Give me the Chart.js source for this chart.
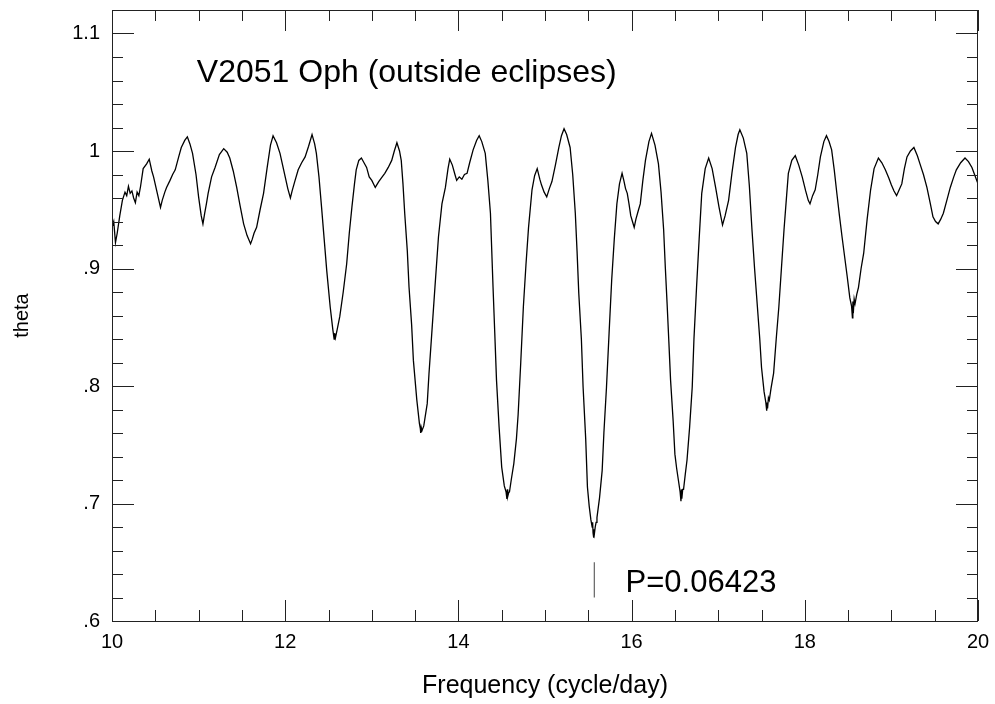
<!DOCTYPE html>
<html>
<head>
<title>V2051 Oph theta periodogram</title>
<script src="https://cdn.jsdelivr.net/npm/chart.js"></script>
<style>
  html, body { margin: 0; padding: 0; background: #fff; }
  canvas { display: block; }
</style>
</head>
<body>
<canvas id="theta" width="995" height="704"></canvas>

<script>
// frequency (cycle/day) and theta, one row per stretch of the curve
const freq = [
  10.00, 10.02, 10.04, 10.06, 10.09, 10.12, 10.15, 10.17, 10.19, 10.21, 10.23, 10.25, 10.27, 10.29, 10.31, 10.33,
  10.36, 10.40, 10.43, 10.46, 10.48, 10.52, 10.56, 10.58, 10.61, 10.63, 10.67, 10.70, 10.73, 10.77, 10.80, 10.84,
  10.87, 10.90, 10.93, 10.97, 11.00, 11.03, 11.05, 11.07, 11.09, 11.11, 11.15, 11.19, 11.24, 11.29, 11.33, 11.36,
  11.40, 11.44, 11.48, 11.52, 11.56, 11.60, 11.62, 11.64, 11.67, 11.71, 11.75, 11.79, 11.83, 11.86, 11.90, 11.94,
  11.97, 12.00, 12.03, 12.06, 12.08, 12.11, 12.15, 12.19, 12.23, 12.27, 12.31, 12.34, 12.36, 12.39, 12.42, 12.45,
  12.48, 12.52, 12.55, 12.565, 12.57, 12.58, 12.60, 12.63, 12.67, 12.71, 12.74, 12.77, 12.80, 12.82, 12.85, 12.88, 12.91, 12.94,
  12.97, 13.00, 13.04, 13.08, 13.12, 13.15, 13.19, 13.23, 13.26, 13.29, 13.32, 13.34, 13.36, 13.38, 13.41, 13.43,
  13.46, 13.48, 13.52, 13.55, 13.56, 13.565, 13.57, 13.58, 13.60, 13.64, 13.66, 13.69, 13.73, 13.77, 13.81, 13.85, 13.88, 13.90, 13.93,
  13.96, 13.98, 14.01, 14.04, 14.07, 14.10, 14.13, 14.17, 14.21, 14.24, 14.27, 14.31, 14.34, 14.37, 14.40, 14.42,
  14.44, 14.47, 14.50, 14.53, 14.55, 14.56, 14.565, 14.57, 14.58, 14.59, 14.61, 14.64, 14.67, 14.69, 14.72, 14.75, 14.78, 14.81, 14.85,
  14.88, 14.91, 14.94, 14.96, 14.99, 15.02, 15.05, 15.08, 15.12, 15.16, 15.19, 15.22, 15.25, 15.29, 15.32, 15.35,
  15.37, 15.39, 15.42, 15.44, 15.47, 15.49, 15.51, 15.53, 15.545, 15.55, 15.555, 15.56, 15.565, 15.57, 15.58, 15.59, 15.60, 15.63, 15.66, 15.68, 15.71,
  15.74, 15.77, 15.80, 15.83, 15.86, 15.89, 15.91, 15.93, 15.95, 15.97, 15.99, 16.01, 16.03, 16.05, 16.08, 16.10,
  16.13, 16.16, 16.20, 16.23, 16.27, 16.31, 16.34, 16.37, 16.39, 16.41, 16.43, 16.45, 16.48, 16.50, 16.52, 16.54,
  16.56, 16.57, 16.575, 16.58, 16.59, 16.60, 16.62, 16.64, 16.67, 16.70, 16.72, 16.75, 16.78, 16.81, 16.85, 16.89, 16.93, 16.97, 17.01,
  17.05, 17.08, 17.12, 17.16, 17.20, 17.23, 17.25, 17.29, 17.33, 17.36, 17.39, 17.42, 17.45, 17.48, 17.50, 17.53,
  17.55, 17.56, 17.565, 17.57, 17.58, 17.59, 17.61, 17.64, 17.67, 17.70, 17.73, 17.76, 17.79, 17.81, 17.85, 17.89, 17.93, 17.97, 18.01,
  18.04, 18.06, 18.09, 18.12, 18.15, 18.18, 18.22, 18.25, 18.28, 18.31, 18.34, 18.37, 18.40, 18.43, 18.46, 18.49,
  18.52, 18.54, 18.55, 18.555, 18.56, 18.57, 18.58, 18.60, 18.62, 18.65, 18.68, 18.72, 18.76, 18.80, 18.85, 18.89, 18.93, 18.97, 19.00,
  19.03, 19.06, 19.09, 19.12, 19.15, 19.18, 19.22, 19.26, 19.30, 19.33, 19.37, 19.41, 19.45, 19.48, 19.51, 19.54,
  19.57, 19.60, 19.64, 19.68, 19.72, 19.75, 19.80, 19.85, 19.89, 19.93, 19.96, 20.00
];
const theta = [
  0.935, 0.940, 0.922, 0.930, 0.945, 0.958, 0.965, 0.962, 0.970, 0.964, 0.966, 0.960, 0.956, 0.965, 0.962, 0.970,
  0.985, 0.989, 0.993, 0.983, 0.978, 0.965, 0.952, 0.958, 0.965, 0.969, 0.975, 0.980, 0.984, 0.995, 1.003, 1.009,
  1.012, 1.006, 0.998, 0.980, 0.961, 0.945, 0.938, 0.947, 0.955, 0.964, 0.978, 0.986, 0.997, 1.002, 0.999, 0.994,
  0.983, 0.969, 0.953, 0.938, 0.928, 0.921, 0.925, 0.930, 0.935, 0.950, 0.964, 0.985, 1.005, 1.013, 1.007, 0.998,
  0.988, 0.978, 0.968, 0.960, 0.966, 0.974, 0.984, 0.990, 0.995, 1.004, 1.014, 1.006, 0.998, 0.978, 0.952, 0.925,
  0.898, 0.867, 0.848, 0.840, 0.845, 0.841, 0.848, 0.859, 0.880, 0.904, 0.930, 0.952, 0.972, 0.984, 0.992, 0.994, 0.990, 0.986,
  0.978, 0.975, 0.969, 0.974, 0.978, 0.981, 0.986, 0.992, 1.000, 1.007, 1.000, 0.992, 0.972, 0.947, 0.915, 0.884,
  0.852, 0.822, 0.788, 0.768, 0.764, 0.760, 0.765, 0.762, 0.766, 0.785, 0.810, 0.842, 0.885, 0.927, 0.955, 0.969, 0.985, 0.993, 0.988,
  0.980, 0.975, 0.978, 0.976, 0.980, 0.981, 0.990, 1.001, 1.009, 1.013, 1.008, 0.998, 0.975, 0.947, 0.884, 0.845,
  0.805, 0.765, 0.731, 0.715, 0.710, 0.704, 0.712, 0.706, 0.709, 0.710, 0.720, 0.734, 0.755, 0.776, 0.820, 0.867, 0.903, 0.935, 0.967,
  0.979, 0.985, 0.976, 0.971, 0.965, 0.961, 0.968, 0.974, 0.988, 1.003, 1.013, 1.019, 1.014, 1.003, 0.980, 0.947,
  0.915, 0.879, 0.840, 0.799, 0.755, 0.714, 0.698, 0.686, 0.680, 0.684, 0.675, 0.671, 0.678, 0.674, 0.680, 0.684, 0.688, 0.705, 0.728, 0.760, 0.799,
  0.845, 0.890, 0.925, 0.955, 0.972, 0.981, 0.975, 0.968, 0.964, 0.955, 0.945, 0.940, 0.935, 0.942, 0.950, 0.955,
  0.975, 0.992, 1.008, 1.015, 1.005, 0.989, 0.965, 0.933, 0.900, 0.870, 0.838, 0.805, 0.770, 0.742, 0.730, 0.720,
  0.710, 0.702, 0.712, 0.704, 0.712, 0.712, 0.725, 0.737, 0.765, 0.799, 0.840, 0.884, 0.925, 0.964, 0.985, 0.994, 0.985, 0.969, 0.952,
  0.937, 0.945, 0.958, 0.982, 1.003, 1.014, 1.018, 1.011, 0.998, 0.970, 0.933, 0.900, 0.870, 0.840, 0.816, 0.795,
  0.786, 0.779, 0.786, 0.781, 0.790, 0.788, 0.798, 0.811, 0.840, 0.867, 0.900, 0.933, 0.962, 0.981, 0.992, 0.996, 0.988, 0.978, 0.966,
  0.958, 0.955, 0.962, 0.967, 0.980, 0.995, 1.008, 1.013, 1.008, 1.001, 0.984, 0.964, 0.945, 0.927, 0.910, 0.893,
  0.875, 0.868, 0.858, 0.872, 0.862, 0.874, 0.870, 0.878, 0.884, 0.900, 0.913, 0.942, 0.967, 0.985, 0.994, 0.990, 0.984, 0.977, 0.971,
  0.966, 0.962, 0.967, 0.972, 0.985, 0.995, 1.000, 1.003, 0.996, 0.989, 0.980, 0.969, 0.955, 0.944, 0.940, 0.938,
  0.942, 0.947, 0.958, 0.969, 0.978, 0.984, 0.990, 0.994, 0.991, 0.986, 0.980, 0.972
];

// the small bar marking the best period
const markFreq = [15.569, 15.569];
const markTheta = [0.620, 0.650];

const xMajor = [10, 12, 14, 16, 18, 20];
const yMajor = [0.6, 0.7, 0.8, 0.9, 1.0, 1.1];
const yMajorText = ['.6', '.7', '.8', '.9', '1', '1.1'];

const titleText = 'V2051 Oph (outside eclipses)';
const periodText = 'P=0.06423';

const FONT = '"Liberation Sans", Arial, Helvetica, sans-serif';

// the labels do not sit at the axis ends, so no edge padding is wanted
function noEdgePad(scale) {
    scale.paddingLeft = 0;
    scale.paddingRight = 0;
    scale.paddingTop = 0;
    scale.paddingBottom = 0;
}

// box, inward ticks on all four sides, and the two labels inside the plot
const frame = {
    id: 'frame',
    afterDatasetsDraw(chart) {
        const ctx = chart.ctx;
        const a = chart.chartArea;
        const xs = chart.scales.x, ys = chart.scales.y;
        ctx.save();
        ctx.strokeStyle = '#222';
        ctx.lineWidth = 1;
        ctx.strokeRect(Math.round(a.left) + 0.5, Math.round(a.top) + 0.5,
                       Math.round(a.right - a.left) - 1, Math.round(a.bottom - a.top));

        ctx.beginPath();
        for (let i = 0; i <= 20; i++) {
            const v = 10 + i * 0.5;
            const len = xMajor.includes(v) ? 21 : 11;
            const px = Math.round(xs.getPixelForValue(v)) + 0.5;
            ctx.moveTo(px, a.bottom); ctx.lineTo(px, a.bottom - len);
            ctx.moveTo(px, a.top); ctx.lineTo(px, a.top + len);
        }
        for (let i = 0; i <= 26; i++) {
            const v = Math.round((0.6 + i * 0.02) * 100) / 100;
            const major = yMajor.some(m => Math.abs(m - v) < 1e-6);
            const len = major ? 22 : 11;
            const py = Math.round(ys.getPixelForValue(v)) + 0.5;
            ctx.moveTo(a.left, py); ctx.lineTo(a.left + len, py);
            ctx.moveTo(a.right, py); ctx.lineTo(a.right - len, py);
        }
        ctx.stroke();

        ctx.fillStyle = '#000';
        ctx.textBaseline = 'alphabetic';
        ctx.textAlign = 'left';
        ctx.font = '32px ' + FONT;
        ctx.fillText(titleText, xs.getPixelForValue(10.98), ys.getPixelForValue(1.0585));
        ctx.font = '31px ' + FONT;
        ctx.fillText(periodText, xs.getPixelForValue(15.93), ys.getPixelForValue(0.625));
        ctx.restore();
    }
};

new Chart(document.getElementById('theta').getContext('2d'), {
    type: 'scatter',
    data: {
        datasets: [{
            data: freq.map((f, i) => ({ x: f, y: theta[i] })),
            showLine: true,
            borderColor: '#000',
            borderWidth: 1.3,
            pointRadius: 0,
            tension: 0
        }, {
            data: markFreq.map((f, i) => ({ x: f, y: markTheta[i] })),
            showLine: true,
            borderColor: '#444',
            borderWidth: 1,
            pointRadius: 0
        }]
    },
    options: {
        responsive: false,
        animation: false,
        devicePixelRatio: 1,
        layout: { padding: { left: 0, right: 17, top: 10, bottom: 0 } },
        plugins: {
            legend: { display: false },
            tooltip: { enabled: false }
        },
        scales: {
            x: {
                type: 'linear',
                min: 10,
                max: 20,
                border: { display: false },
                grid: { display: false, drawTicks: false },
                afterBuildTicks: scale => { scale.ticks = xMajor.map(v => ({ value: v })); },
                afterFit: scale => { scale.height = 83; noEdgePad(scale); },
                ticks: {
                    padding: 9,
                    maxRotation: 0,
                    autoSkip: false,
                    color: '#000',
                    font: { family: FONT, size: 20 },
                    callback: v => String(v)
                },
                title: {
                    display: true,
                    text: 'Frequency (cycle/day)',
                    color: '#000',
                    font: { family: FONT, size: 25 },
                    padding: { top: 0, bottom: 3 }
                }
            },
            y: {
                type: 'linear',
                min: 0.6,
                max: 1.12,
                border: { display: false },
                grid: { display: false, drawTicks: false },
                afterBuildTicks: scale => { scale.ticks = yMajor.map(v => ({ value: v })); },
                afterFit: scale => { scale.width = 112; noEdgePad(scale); },
                ticks: {
                    padding: 12,
                    autoSkip: false,
                    color: '#000',
                    font: { family: FONT, size: 20 },
                    callback: v => {
                        const i = yMajor.findIndex(m => Math.abs(m - v) < 1e-6);
                        return i < 0 ? '' : yMajorText[i];
                    }
                },
                title: {
                    display: true,
                    text: 'theta',
                    color: '#000',
                    font: { family: FONT, size: 20 },
                    padding: { top: 10, bottom: 0 }
                }
            }
        }
    },
    plugins: [frame]
});
</script>
</body>
</html>
